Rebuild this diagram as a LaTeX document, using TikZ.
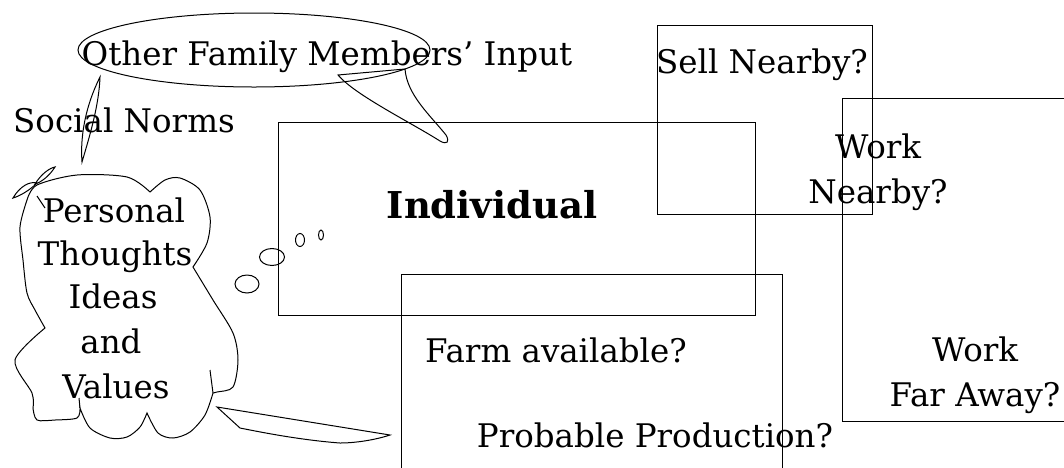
\documentclass[tikz,border=0pt]{standalone}
\usepackage{fontspec}
\setmainfont{DejaVu Serif}
\usetikzlibrary{shapes.geometric}
\begin{document}
\begin{tikzpicture}[x=1pt,y=-1pt,
  ink/.style={draw=black, line width=1pt},
  txt/.style={font=\fontsize{32.5}{38}\selectfont, inner sep=0pt, anchor=base},
  boxr/.style={ink, anchor=north west, inner sep=0pt},
  bubble/.style={ink, ellipse, inner sep=0pt}]
\useasboundingbox (0,0) rectangle (1064,467);
\clip (0,0) rectangle (1064,467);

% option boxes
\node[boxr, minimum width=477pt, minimum height=193pt] (indiv) at (278,122) {};
\node[boxr, minimum width=215pt, minimum height=189pt] (sell) at (657,25) {};
\node[boxr, minimum width=240pt, minimum height=323pt] (work) at (842,98) {};
\node[boxr, minimum width=381pt, minimum height=210pt] (farm) at (401,274) {};

% speech balloon of the family
\node[bubble, minimum width=352pt, minimum height=74pt] (family) at (254,50) {};
\draw[ink] (338,75) -- (405,69) .. controls (407,95) and (430,115) .. (446,135)
  .. controls (450,142) and (447,145) .. (440,141)
  .. controls (410,122) and (355,95) .. cycle;

% thin pointer of the social norms
\draw[ink] (100,77) .. controls (86,105) and (80,135) .. (82,162)
  .. controls (90,135) and (99,105) .. cycle;

% thought cloud
\draw[ink] plot[smooth] coordinates {(27,200) (37,185) (77,175) (127,177) (150,192)}
  -- plot[smooth] coordinates {(150,192) (165,180) (180,178) (200,190) (210,217) (207,243) (193,267)}
  -- plot[smooth] coordinates {(193,267) (213,300) (233,333) (238,360) (233,387) (217,392) (213,393)}
  -- plot[smooth] coordinates {(213,393) (205,415) (190,432) (173,438) (158,433) (147,413)}
  -- plot[smooth] coordinates {(147,413) (140,427) (127,437) (110,438) (90,428) (80,408)}
  -- plot[smooth] coordinates {(80,408) (77,418) (55,420) (37,420) (33,408)}
  -- plot[smooth] coordinates {(33,408) (32,393) (15,360) (45,328)}
  -- plot[smooth] coordinates {(45,328) (35,310) (27,293) (23,260) (20,227) (27,200)};
\draw[ink] (210,370) -- (213,393);
\draw[ink] (80,408) -- (79,398);
% small propeller at the cloud's corner
\draw[ink] (13,198) .. controls (20,186) and (30,181) .. (37,183)
  .. controls (30,190) and (20,196) .. cycle;
\draw[ink] (35,184) .. controls (42,173) and (50,168) .. (55,167)
  .. controls (50,175) and (42,182) .. cycle;
\draw[ink] (37,196) -- (45,208);

% thought bubbles
\node[bubble, minimum width=25pt, minimum height=17pt] (b1) at (272,257) {};
\node[bubble, minimum width=24pt, minimum height=18pt] (b2) at (247,284) {};
\node[bubble, minimum width=9pt, minimum height=13pt] (b3) at (300,240) {};
\node[bubble, minimum width=5pt, minimum height=10pt] (b4) at (321,235) {};

% tail of the cloud
\draw[ink] (217,407) -- (390,435) .. controls (375,440) and (355,443) .. (340,443)
  .. controls (300,440) and (260,432) .. (240,428) -- cycle;

% texts
\node[txt] (tfamily) at (327,65) {Other Family Members' Input};
\node[txt] (tsocial) at (124,132) {Social Norms};
\node[txt, font=\bfseries\fontsize{37}{42}\selectfont] (tindiv) at (492,218) {Individual};
\node[txt] (tsell) at (762,73) {Sell Nearby?};
\node[txt] (tnear1) at (878,158) {Work};
\node[txt] (tnear2) at (878,203) {Nearby?};
\node[txt] (tfarm) at (556,362) {Farm available?};
\node[txt] (tprod) at (655,447) {Probable Production?};
\node[txt] (tfar1) at (975,361) {Work};
\node[txt] (tfar2) at (975,406) {Far Away?};
\node[txt] (tp1) at (114,222) {Personal};
\node[txt] (tp2) at (115,265) {Thoughts};
\node[txt] (tp3) at (113,308) {Ideas};
\node[txt] (tp4) at (111,353) {and};
\node[txt] (tp5) at (116,398) {Values};
\end{tikzpicture}
\end{document}
